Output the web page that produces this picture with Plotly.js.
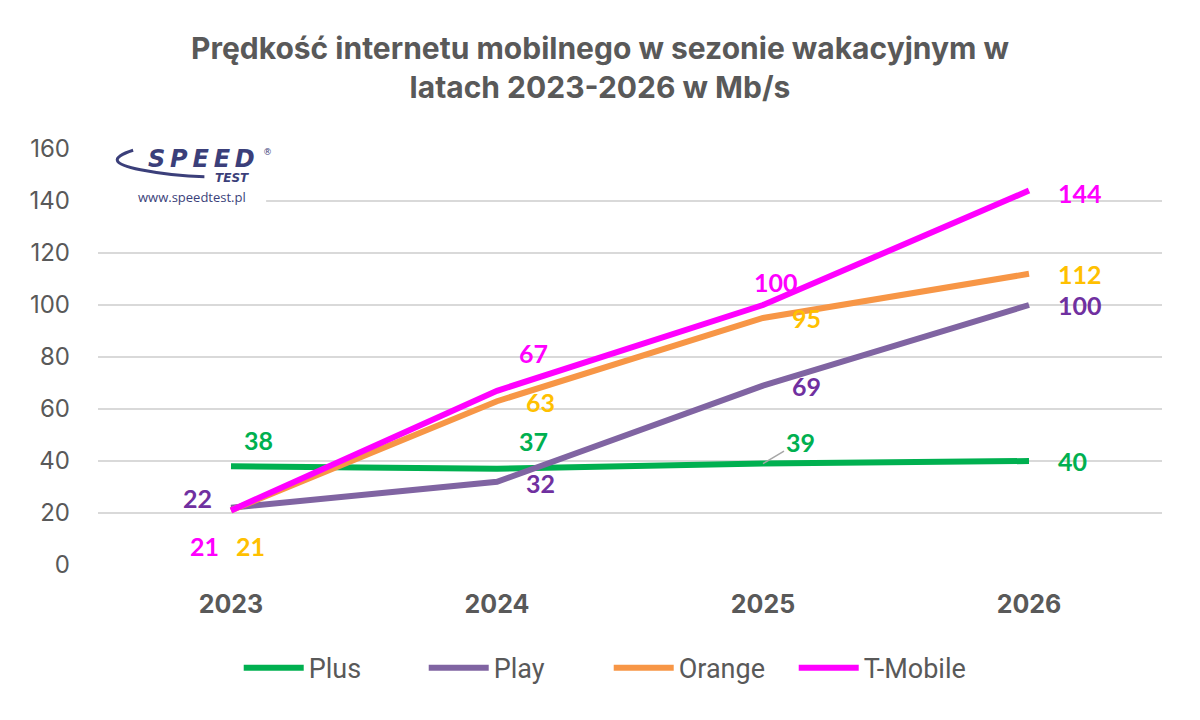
<!DOCTYPE html>
<html>
<head>
<meta charset="utf-8">
<script src="https://cdn.plot.ly/plotly-3.0.1.min.js"></script>
<style>
  html, body { margin: 0; padding: 0; background: #fff; }
  #chart { width: 1200px; height: 720px; }
</style>
</head>
<body>
<div id="chart"></div>
<script>
var years = ['2023', '2024', '2025', '2026'];
var plus = [38, 37, 39, 40];
var play = [22, 32, 69, 100];
var orange = [21, 63, 95, 112];
var tmobile = [21, 67, 100, 144];
var yTicks = [0, 20, 40, 60, 80, 100, 120, 140, 160];

// where each label sits relative to its point (px, y up)
var series = [
  {name: 'Plus', y: plus, line: '#00B050', label: '#00B050',
   off: [[27, 26], [36, 28], [0, 0], [43, 0]]},
  {name: 'Play', y: play, line: '#8064A2', label: '#7030A0',
   off: [[-34, 10], [43, -1], [43, 0], [51, 0]]},
  {name: 'Orange', y: orange, line: '#F79646', label: '#FFC000',
   off: [[19, -36], [43, -1], [43, 0], [51, 0]]},
  {name: 'T-Mobile', y: tmobile, line: '#FF00FF', label: '#FF00FF',
   off: [[-27, -36], [36, 38], [13, 23], [51, -2]]}
];

var traces = [];
var annotations = [];

for (var i = 0; i < series.length; i++) {
  var s = series[i];
  traces.push({
    x: years,
    y: s.y,
    name: s.name,
    type: 'scatter',
    mode: 'lines',
    line: {color: s.line, width: 6},
    hoverinfo: 'skip'
  });
  for (var j = 0; j < years.length; j++) {
    var a = {
      x: j,  // category index
      y: s.y[j],
      text: String(s.y[j]),
      showarrow: false,
      xshift: s.off[j][0],
      yshift: s.off[j][1],
      font: {family: 'Lato', size: 25, color: s.label, weight: 'bold'}
    };
    if (s.off[j][0] === 0 && s.off[j][1] === 0) {
      // the label with a leader line (Plus, 2025)
      a.showarrow = true;
      a.arrowhead = 0;
      a.arrowwidth = 1.5;
      a.arrowcolor = '#A6A6A6';
      a.ax = 37;
      a.ay = -22;
      a.standoff = 0;
      a.startstandoff = 0;
    }
    annotations.push(a);
  }
}

// logo
function logoText(x, y, text, font) {
  annotations.push({
    xref: 'paper', yref: 'paper', x: x, y: y,
    xanchor: 'center', yanchor: 'middle',
    text: text, showarrow: false, font: font
  });
}
logoText(0.097, 0.976, '<i><b>S\u2009P\u2009E\u2009E\u2009D</b></i>', {family: 'DejaVu Sans', size: 24, color: '#3B3F7A'});
logoText(0.126, 0.93, '<i><b>TEST</b></i>', {family: 'DejaVu Sans', size: 12, color: '#3B3F7A'});
logoText(0.159, 0.993, '®', {family: 'DejaVu Sans', size: 9, color: '#3B3F7A'});
logoText(0.088, 0.884, 'www.speedtest.pl', {family: 'Open Sans', size: 13, color: '#3B3F7A'});

var layout = {
  width: 1200,
  height: 720,
  paper_bgcolor: '#ffffff',
  plot_bgcolor: '#ffffff',
  margin: {l: 98, r: 38, t: 149, b: 155},
  title: {
    text: 'Prędkość internetu mobilnego w sezonie wakacyjnym w<br>latach 2023-2026 w Mb/s',
    font: {family: 'Inter', size: 30, color: '#595959', weight: 'bold'},
    x: 0.5,
    xanchor: 'center',
    y: 0.918,
    yanchor: 'middle',
    yref: 'container'
  },
  xaxis: {
    type: 'category',
    range: [-0.5, 3.5],
    showgrid: false,
    showline: false,
    zeroline: false,
    ticks: '',
    ticklabelstandoff: 22,
    tickfont: {family: 'Inter', size: 25, color: '#595959', weight: 'bold'},
    fixedrange: true
  },
  yaxis: {
    range: [0, 160],
    tickvals: yTicks,
    showgrid: true,
    gridcolor: '#D9D9D9',
    gridwidth: 1.5,
    zeroline: false,
    showline: false,
    ticks: '',
    ticklabelstandoff: 27,
    tickfont: {family: 'Inter', size: 24, color: '#595959'},
    fixedrange: true
  },
  showlegend: true,
  legend: {
    orientation: 'h',
    x: 0.48,
    xanchor: 'center',
    y: -0.248,
    yanchor: 'middle',
    font: {family: 'Roboto', size: 27, color: '#595959'},
    itemwidth: 60,
    entrywidth: 110,
    entrywidthmode: 'pixels',
    traceorder: 'normal'
  },
  shapes: [
    {
      type: 'rect', xref: 'paper', yref: 'paper', layer: 'above',
      x0: 0.0, x1: 0.158, y0: 0.853, y1: 1.02,
      fillcolor: '#ffffff', line: {width: 0}
    },
    {
      type: 'path', xref: 'paper', yref: 'paper', layer: 'above',
      path: 'M 0.033 0.997 Q 0.0 0.97 0.04 0.95 Q 0.07 0.935 0.10 0.933',
      line: {color: '#3B3F7A', width: 3}
    }
  ],
  annotations: annotations
};

Plotly.newPlot('chart', traces, layout, {displayModeBar: false, staticPlot: true});
</script>
</body>
</html>
